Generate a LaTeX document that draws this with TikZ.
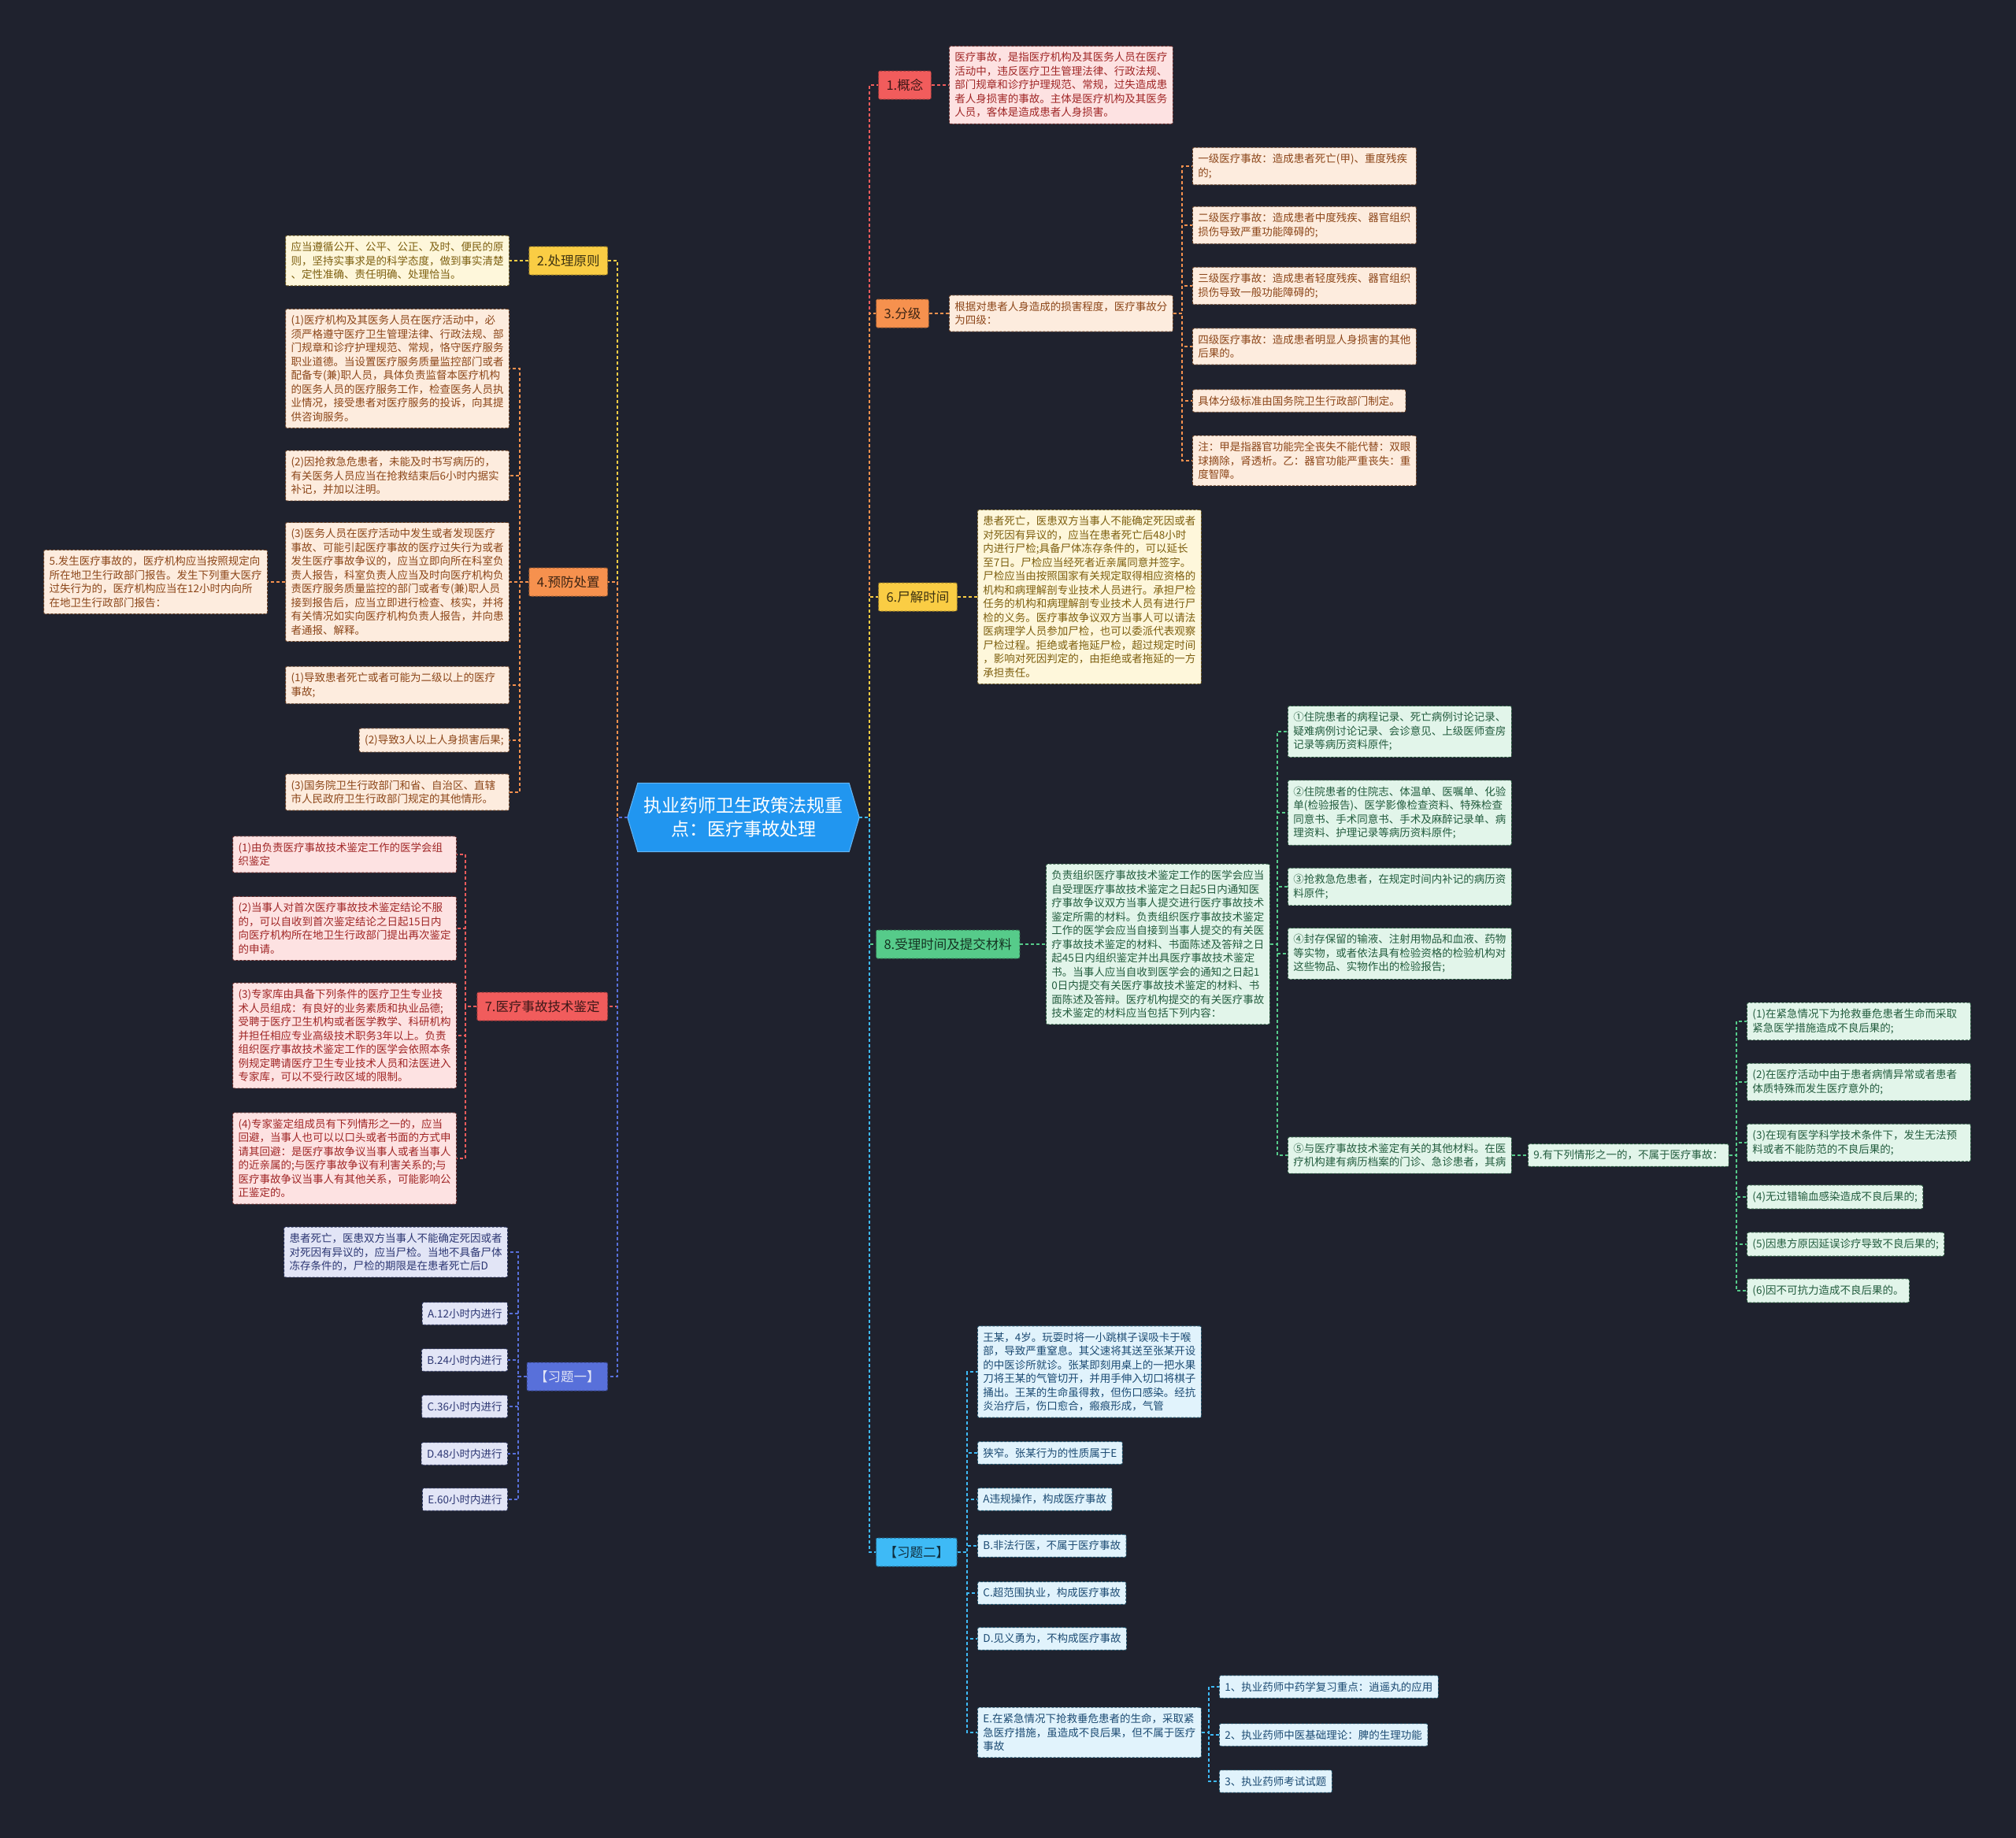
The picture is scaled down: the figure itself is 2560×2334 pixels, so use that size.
\documentclass[tikz,border=0pt]{standalone}
\usepackage{fontspec}
\setmainfont{Noto Sans CJK SC}
\usetikzlibrary{calc,backgrounds}
\definecolor{mapBg}{RGB}{31,34,46}
\definecolor{mapCenter}{RGB}{33,150,240}
\definecolor{mapRed}{RGB}{241,92,92}
\definecolor{mapRedPale}{RGB}{253,226,226}
\definecolor{mapRedInk}{RGB}{160,38,38}
\definecolor{mapOrange}{RGB}{246,145,78}
\definecolor{mapOrangePale}{RGB}{253,236,222}
\definecolor{mapOrangeInk}{RGB}{140,70,25}
\definecolor{mapYellow}{RGB}{250,205,68}
\definecolor{mapYellowPale}{RGB}{254,247,219}
\definecolor{mapYellowInk}{RGB}{125,95,15}
\definecolor{mapGreen}{RGB}{86,203,138}
\definecolor{mapGreenPale}{RGB}{226,245,234}
\definecolor{mapGreenInk}{RGB}{35,92,62}
\definecolor{mapSky}{RGB}{62,186,246}
\definecolor{mapSkyPale}{RGB}{225,243,252}
\definecolor{mapSkyInk}{RGB}{28,75,115}
\definecolor{mapIndigo}{RGB}{88,112,218}
\definecolor{mapIndigoPale}{RGB}{226,229,246}
\definecolor{mapIndigoInk}{RGB}{45,55,115}
\tikzset{
  maplink/.style={line width=1.5pt,dash pattern=on 4pt off 3pt},
  maptopic/.style={font=\fontsize{16.5}{20}\selectfont,inner xsep=10pt,inner ysep=4pt,minimum height=36pt,rounded corners=2pt,line width=1pt,dash pattern=on 3pt off 2pt},
  mapleaf/.style={font=\fontsize{13.5}{17.5}\selectfont,align=left,inner xsep=7pt,inner ysep=8pt,rounded corners=2pt,line width=0.9pt,dash pattern=on 3pt off 2pt},
  leafwrap/.style={text width=270pt},
  mapcentertext/.style={font=\fontsize{23}{30}\selectfont,text=white,align=center,minimum width=294pt,minimum height=87pt,inner sep=0pt},
  topicred/.style={maptopic,fill=mapRed,draw=mapRed!60!black,text=mapRed!25!black},
  topicorange/.style={maptopic,fill=mapOrange,draw=mapOrange!60!black,text=mapOrange!25!black},
  topicyellow/.style={maptopic,fill=mapYellow,draw=mapYellow!60!black,text=mapYellow!25!black},
  topicgreen/.style={maptopic,fill=mapGreen,draw=mapGreen!60!black,text=mapGreen!25!black},
  topicsky/.style={maptopic,fill=mapSky,draw=mapSky!60!black,text=mapSky!25!black},
  topicindigo/.style={maptopic,fill=mapIndigo,draw=mapIndigo!60!black,text=mapIndigoPale},
  leafred/.style={mapleaf,fill=mapRedPale,draw=mapRed!40!black,text=mapRedInk},
  leaforange/.style={mapleaf,fill=mapOrangePale,draw=mapOrange!40!black,text=mapOrangeInk},
  leafyellow/.style={mapleaf,fill=mapYellowPale,draw=mapYellow!40!black,text=mapYellowInk},
  leafgreen/.style={mapleaf,fill=mapGreenPale,draw=mapGreen!40!black,text=mapGreenInk},
  leafsky/.style={mapleaf,fill=mapSkyPale,draw=mapSky!40!black,text=mapSkyInk},
  leafindigo/.style={mapleaf,fill=mapIndigoPale,draw=mapIndigo!40!black,text=mapIndigoInk},
  linkred/.style={maplink,draw=mapRed},
  linkorange/.style={maplink,draw=mapOrange},
  linkyellow/.style={maplink,draw=mapYellow},
  linkgreen/.style={maplink,draw=mapGreen},
  linksky/.style={maplink,draw=mapSky},
  linkindigo/.style={maplink,draw=mapIndigo},
}
% parent -> column -> children, to the right or to the left
\newcommand{\FanRight}[4]{%
  \foreach \kid in {#4}{\draw[#1] (#2.east) -- (#3,0 |- #2.east) |- (\kid.west);}%
}
\newcommand{\FanLeft}[4]{%
  \foreach \kid in {#4}{\draw[#1] (#2.west) -- (#3,0 |- #2.west) |- (\kid.east);}%
}

\begin{document}
\begin{tikzpicture}[x=1pt,y=-1pt]
\useasboundingbox (0,0) rectangle (2560,2334);
\begin{scope}[on background layer]
  \fill[mapBg] (0,0) rectangle (2560,2334);
\end{scope}

% Root.
\node[mapcentertext] (ctr) at (944,1038) {执业药师卫生政策法规重\\点：医疗事故处理};
\begin{scope}[on background layer]
  \filldraw[fill=mapCenter,draw=mapCenter!70!white,line width=1pt]
    ($(ctr.north west)+(13,0)$) -- ($(ctr.north east)+(-13,0)$) -- (ctr.east)
    -- ($(ctr.south east)+(-13,0)$) -- ($(ctr.south west)+(13,0)$) -- (ctr.west) -- cycle;
\end{scope}

% Right: 1.
\node[topicred,anchor=west] (gainian) at (1115,108) {1.概念};
\node[leafred,leafwrap,anchor=west] (gainianT) at (1205,108) {医疗事故，是指医疗机构及其医务人员在医疗\\活动中，违反医疗卫生管理法律、行政法规、\\部门规章和诊疗护理规范、常规，过失造成患\\者人身损害的事故。主体是医疗机构及其医务\\人员，客体是造成患者人身损害。};

% Right: 3.
\node[topicorange,anchor=west] (fenji) at (1112,398) {3.分级};
\node[leaforange,leafwrap,anchor=west] (fenjiT) at (1205,398) {根据对患者人身造成的损害程度，医疗事故分\\为四级：};
\node[leaforange,leafwrap,anchor=west] (fj1) at (1514,211) {一级医疗事故：造成患者死亡(甲)、重度残疾\\的;};
\node[leaforange,leafwrap,anchor=west] (fj2) at (1514,286) {二级医疗事故：造成患者中度残疾、器官组织\\损伤导致严重功能障碍的;};
\node[leaforange,leafwrap,anchor=west] (fj3) at (1514,363) {三级医疗事故：造成患者轻度残疾、器官组织\\损伤导致一般功能障碍的;};
\node[leaforange,leafwrap,anchor=west] (fj4) at (1514,440) {四级医疗事故：造成患者明显人身损害的其他\\后果的。};
\node[leaforange,anchor=west] (fj5) at (1514,509) {具体分级标准由国务院卫生行政部门制定。};
\node[leaforange,leafwrap,anchor=west] (fj6) at (1514,585) {注：甲是指器官功能完全丧失不能代替：双眼\\球摘除，肾透析。乙：器官功能严重丧失：重\\度智障。};

% Right: 6.
\node[topicyellow,anchor=west] (shijie) at (1115,758) {6.尸解时间};
\node[leafyellow,leafwrap,anchor=west] (shijieT) at (1241,758) {患者死亡，医患双方当事人不能确定死因或者\\对死因有异议的，应当在患者死亡后48小时\\内进行尸检;具备尸体冻存条件的，可以延长\\至7日。尸检应当经死者近亲属同意并签字。\\尸检应当由按照国家有关规定取得相应资格的\\机构和病理解剖专业技术人员进行。承担尸检\\任务的机构和病理解剖专业技术人员有进行尸\\检的义务。医疗事故争议双方当事人可以请法\\医病理学人员参加尸检，也可以委派代表观察\\尸检过程。拒绝或者拖延尸检，超过规定时间\\，影响对死因判定的，由拒绝或者拖延的一方\\承担责任。};

% Right: 8. and 9.
\node[topicgreen,anchor=west] (shouli) at (1112,1199) {8.受理时间及提交材料};
\node[leafgreen,leafwrap,anchor=west] (shouliT) at (1328,1199) {负责组织医疗事故技术鉴定工作的医学会应当\\自受理医疗事故技术鉴定之日起5日内通知医\\疗事故争议双方当事人提交进行医疗事故技术\\鉴定所需的材料。负责组织医疗事故技术鉴定\\工作的医学会应当自接到当事人提交的有关医\\疗事故技术鉴定的材料、书面陈述及答辩之日\\起45日内组织鉴定并出具医疗事故技术鉴定\\书。当事人应当自收到医学会的通知之日起1\\0日内提交有关医疗事故技术鉴定的材料、书\\面陈述及答辩。医疗机构提交的有关医疗事故\\技术鉴定的材料应当包括下列内容：};
\node[leafgreen,leafwrap,anchor=west] (cl1) at (1635,929) {①住院患者的病程记录、死亡病例讨论记录、\\疑难病例讨论记录、会诊意见、上级医师查房\\记录等病历资料原件;};
\node[leafgreen,leafwrap,anchor=west] (cl2) at (1635,1032) {②住院患者的住院志、体温单、医嘱单、化验\\单(检验报告)、医学影像检查资料、特殊检查\\同意书、手术同意书、手术及麻醉记录单、病\\理资料、护理记录等病历资料原件;};
\node[leafgreen,leafwrap,anchor=west] (cl3) at (1635,1126) {③抢救急危患者，在规定时间内补记的病历资\\料原件;};
\node[leafgreen,leafwrap,anchor=west] (cl4) at (1635,1211) {④封存保留的输液、注射用物品和血液、药物\\等实物，或者依法具有检验资格的检验机构对\\这些物品、实物作出的检验报告;};
\node[leafgreen,leafwrap,anchor=west] (cl5) at (1635,1467) {⑤与医疗事故技术鉴定有关的其他材料。在医\\疗机构建有病历档案的门诊、急诊患者，其病};
\node[leafgreen,anchor=west] (bushu) at (1940,1467) {9.有下列情形之一的，不属于医疗事故：};
\node[leafgreen,leafwrap,anchor=west] (bs1) at (2218,1297) {(1)在紧急情况下为抢救垂危患者生命而采取\\紧急医学措施造成不良后果的;};
\node[leafgreen,leafwrap,anchor=west] (bs2) at (2218,1374) {(2)在医疗活动中由于患者病情异常或者患者\\体质特殊而发生医疗意外的;};
\node[leafgreen,leafwrap,anchor=west] (bs3) at (2218,1451) {(3)在现有医学科学技术条件下，发生无法预\\料或者不能防范的不良后果的;};
\node[leafgreen,anchor=west] (bs4) at (2218,1520) {(4)无过错输血感染造成不良后果的;};
\node[leafgreen,anchor=west] (bs5) at (2218,1580) {(5)因患方原因延误诊疗导致不良后果的;};
\node[leafgreen,anchor=west] (bs6) at (2218,1639) {(6)因不可抗力造成不良后果的。};

% Right: exercise two.
\node[topicsky,anchor=west] (lianxi2) at (1112,1971) {【习题二】};
\node[leafsky,leafwrap,anchor=west] (lx2a) at (1241,1742) {王某，4岁。玩耍时将一小跳棋子误吸卡于喉\\部，导致严重窒息。其父速将其送至张某开设\\的中医诊所就诊。张某即刻用桌上的一把水果\\刀将王某的气管切开，并用手伸入切口将棋子\\捅出。王某的生命虽得救，但伤口感染。经抗\\炎治疗后，伤口愈合，瘢痕形成，气管};
\node[leafsky,anchor=west] (lx2b) at (1241,1845) {狭窄。张某行为的性质属于E};
\node[leafsky,anchor=west] (lx2c) at (1241,1904) {A违规操作，构成医疗事故};
\node[leafsky,anchor=west] (lx2d) at (1241,1963) {B.非法行医，不属于医疗事故};
\node[leafsky,anchor=west] (lx2e) at (1241,2023) {C.超范围执业，构成医疗事故};
\node[leafsky,anchor=west] (lx2f) at (1241,2081) {D.见义勇为，不构成医疗事故};
\node[leafsky,leafwrap,anchor=west] (lx2g) at (1241,2200) {E.在紧急情况下抢救垂危患者的生命，采取紧\\急医疗措施，虽造成不良后果，但不属于医疗\\事故};
\node[leafsky,anchor=west] (tj1) at (1548,2142) {1、执业药师中药学复习重点：逍遥丸的应用};
\node[leafsky,anchor=west] (tj2) at (1548,2203) {2、执业药师中医基础理论：脾的生理功能};
\node[leafsky,anchor=west] (tj3) at (1548,2262) {3、执业药师考试试题};

% Left: 2.
\node[topicyellow,anchor=east] (yuanze) at (772,331) {2.处理原则};
\node[leafyellow,leafwrap,anchor=east] (yuanzeT) at (647,331) {应当遵循公开、公平、公正、及时、便民的原\\则，坚持实事求是的科学态度，做到事实清楚\\、定性准确、责任明确、处理恰当。};

% Left: 4. and 5.
\node[topicorange,anchor=east] (yufang) at (772,739) {4.预防处置};
\node[leaforange,leafwrap,anchor=east] (yf1) at (647,468) {(1)医疗机构及其医务人员在医疗活动中，必\\须严格遵守医疗卫生管理法律、行政法规、部\\门规章和诊疗护理规范、常规，恪守医疗服务\\职业道德。当设置医疗服务质量监控部门或者\\配备专(兼)职人员，具体负责监督本医疗机构\\的医务人员的医疗服务工作，检查医务人员执\\业情况，接受患者对医疗服务的投诉，向其提\\供咨询服务。};
\node[leaforange,leafwrap,anchor=east] (yf2) at (647,604) {(2)因抢救急危患者，未能及时书写病历的，\\有关医务人员应当在抢救结束后6小时内据实\\补记，并加以注明。};
\node[leaforange,leafwrap,anchor=east] (yf3) at (647,739) {(3)医务人员在医疗活动中发生或者发现医疗\\事故、可能引起医疗事故的医疗过失行为或者\\发生医疗事故争议的，应当立即向所在科室负\\责人报告，科室负责人应当及时向医疗机构负\\责医疗服务质量监控的部门或者专(兼)职人员\\接到报告后，应当立即进行检查、核实，并将\\有关情况如实向医疗机构负责人报告，并向患\\者通报、解释。};
\node[leaforange,leafwrap,anchor=east] (yf4) at (647,870) {(1)导致患者死亡或者可能为二级以上的医疗\\事故;};
\node[leaforange,anchor=east] (yf5) at (647,940) {(2)导致3人以上人身损害后果;};
\node[leaforange,leafwrap,anchor=east] (yf6) at (647,1006) {(3)国务院卫生行政部门和省、自治区、直辖\\市人民政府卫生行政部门规定的其他情形。};
\node[leaforange,leafwrap,anchor=east] (baogao) at (340,739) {5.发生医疗事故的，医疗机构应当按照规定向\\所在地卫生行政部门报告。发生下列重大医疗\\过失行为的，医疗机构应当在12小时内向所\\在地卫生行政部门报告：};

% Left: 7.
\node[topicred,anchor=east] (jianding) at (772,1278) {7.医疗事故技术鉴定};
\node[leafred,leafwrap,anchor=east] (jd1) at (580,1085) {(1)由负责医疗事故技术鉴定工作的医学会组\\织鉴定};
\node[leafred,leafwrap,anchor=east] (jd2) at (580,1179) {(2)当事人对首次医疗事故技术鉴定结论不服\\的，可以自收到首次鉴定结论之日起15日内\\向医疗机构所在地卫生行政部门提出再次鉴定\\的申请。};
\node[leafred,leafwrap,anchor=east] (jd3) at (580,1315) {(3)专家库由具备下列条件的医疗卫生专业技\\术人员组成：有良好的业务素质和执业品德;\\受聘于医疗卫生机构或者医学教学、科研机构\\并担任相应专业高级技术职务3年以上。负责\\组织医疗事故技术鉴定工作的医学会依照本条\\例规定聘请医疗卫生专业技术人员和法医进入\\专家库，可以不受行政区域的限制。};
\node[leafred,leafwrap,anchor=east] (jd4) at (580,1471) {(4)专家鉴定组成员有下列情形之一的，应当\\回避，当事人也可以以口头或者书面的方式申\\请其回避：是医疗事故争议当事人或者当事人\\的近亲属的;与医疗事故争议有利害关系的;与\\医疗事故争议当事人有其他关系，可能影响公\\正鉴定的。};

% Left: exercise one.
\node[topicindigo,anchor=east] (lianxi1) at (772,1748) {【习题一】};
\node[leafindigo,leafwrap,anchor=east] (lx1a) at (645,1590) {患者死亡，医患双方当事人不能确定死因或者\\对死因有异议的，应当尸检。当地不具备尸体\\冻存条件的，尸检的期限是在患者死亡后D};
\node[leafindigo,anchor=east] (lx1b) at (645,1668) {A.12小时内进行};
\node[leafindigo,anchor=east] (lx1c) at (645,1727) {B.24小时内进行};
\node[leafindigo,anchor=east] (lx1d) at (645,1786) {C.36小时内进行};
\node[leafindigo,anchor=east] (lx1e) at (645,1846) {D.48小时内进行};
\node[leafindigo,anchor=east] (lx1f) at (645,1904) {E.60小时内进行};

% Connectors.
\FanRight{linkred}{ctr}{1104}{gainian}
\FanRight{linkorange}{ctr}{1104}{fenji}
\FanRight{linkyellow}{ctr}{1104}{shijie}
\FanRight{linkgreen}{ctr}{1104}{shouli}
\FanRight{linksky}{ctr}{1104}{lianxi2}
\draw[linkred] (gainian.east) -- (gainianT.west);
\draw[linkorange] (fenji.east) -- (fenjiT.west);
\FanRight{linkorange}{fenjiT}{1501}{fj1,fj2,fj3,fj4,fj5,fj6}
\draw[linkyellow] (shijie.east) -- (shijieT.west);
\draw[linkgreen] (shouli.east) -- (shouliT.west);
\FanRight{linkgreen}{shouliT}{1622}{cl1,cl2,cl3,cl4,cl5}
\draw[linkgreen] (cl5.east) -- (bushu.west);
\FanRight{linkgreen}{bushu}{2205}{bs1,bs2,bs3,bs4,bs5,bs6}
\FanRight{linksky}{lianxi2}{1228}{lx2a,lx2b,lx2c,lx2d,lx2e,lx2f,lx2g}
\FanRight{linksky}{lx2g}{1535}{tj1,tj2,tj3}

\FanLeft{linkyellow}{ctr}{784}{yuanze}
\FanLeft{linkorange}{ctr}{784}{yufang}
\FanLeft{linkred}{ctr}{784}{jianding}
\FanLeft{linkindigo}{ctr}{784}{lianxi1}
\draw[linkyellow] (yuanze.west) -- (yuanzeT.east);
\FanLeft{linkorange}{yufang}{660}{yf1,yf2,yf3,yf4,yf5,yf6}
\draw[linkorange] (yf3.west) -- (baogao.east);
\FanLeft{linkred}{jianding}{591}{jd1,jd2,jd3,jd4}
\FanLeft{linkindigo}{lianxi1}{658}{lx1a,lx1b,lx1c,lx1d,lx1e,lx1f}
\end{tikzpicture}
\end{document}
